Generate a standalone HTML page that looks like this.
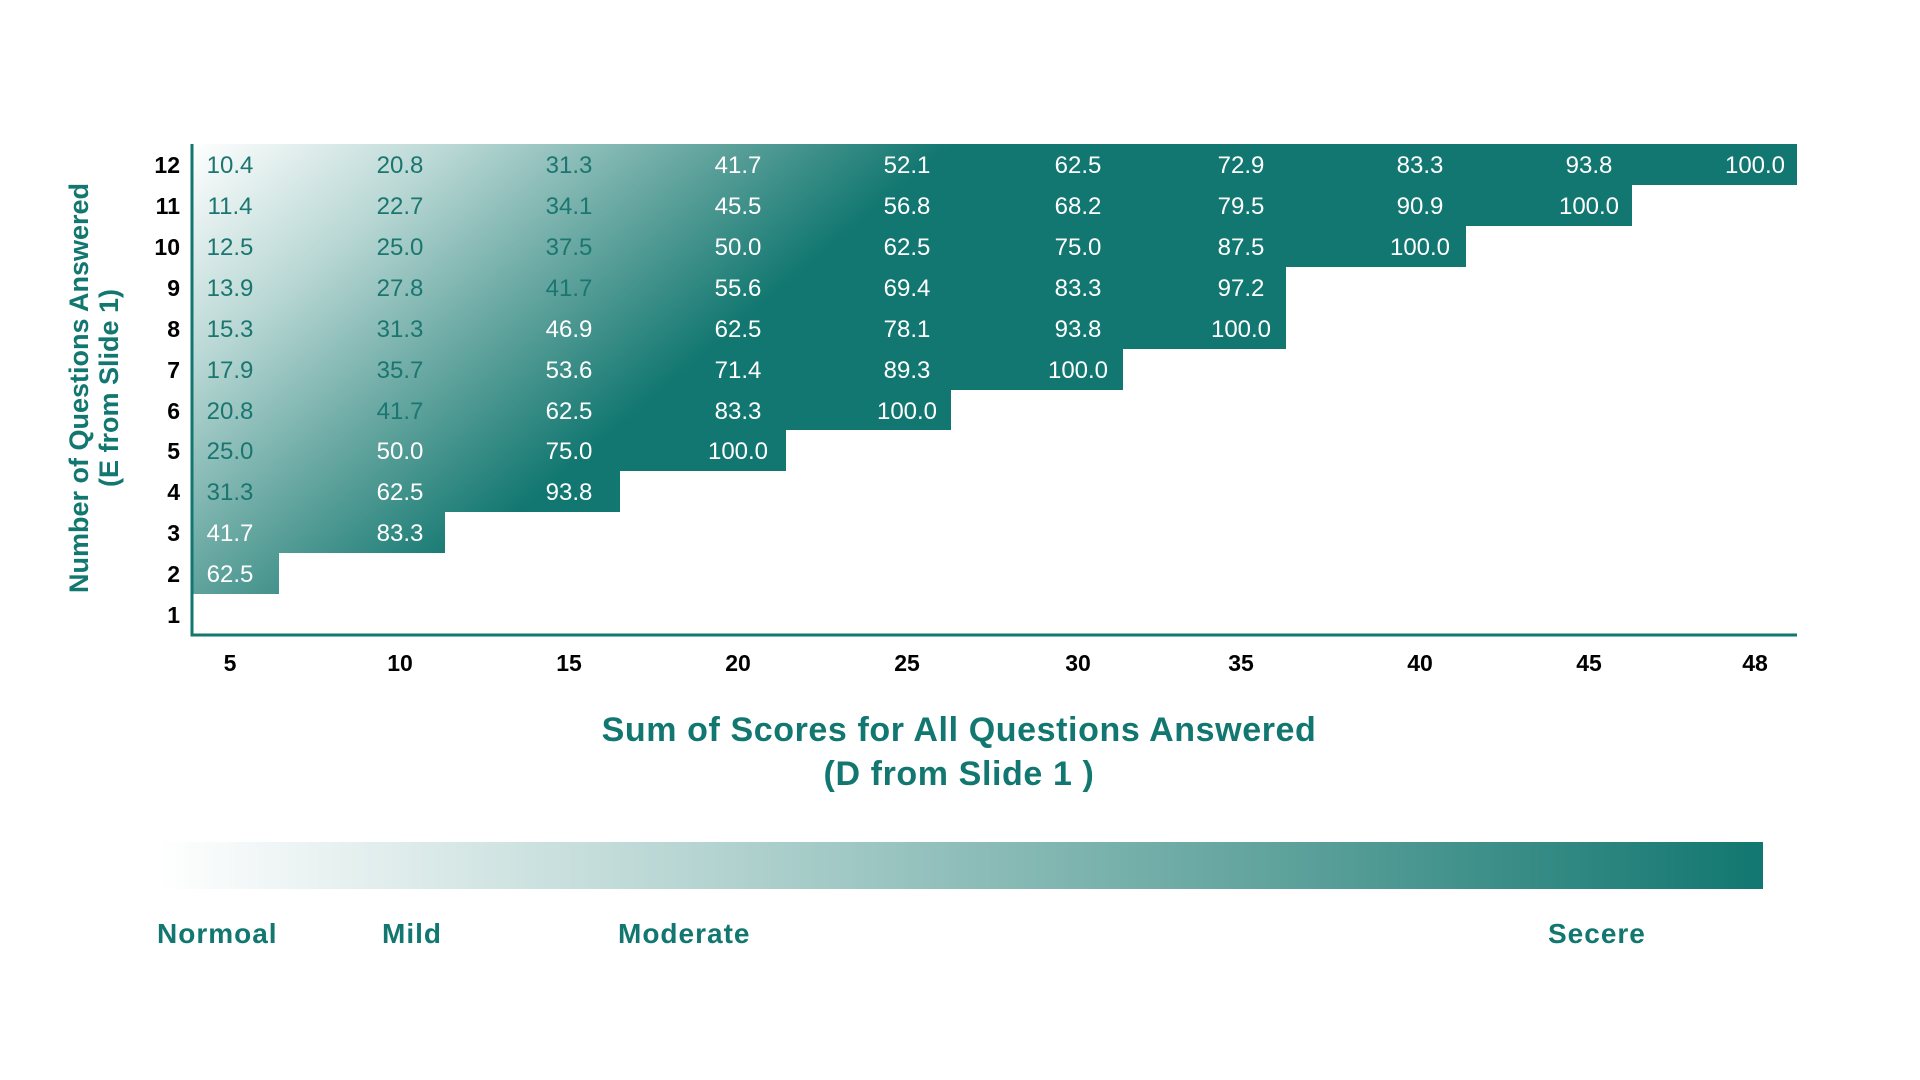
<!DOCTYPE html>
<html><head><meta charset="utf-8"><style>
html,body{margin:0;padding:0;background:#fff;width:1920px;height:1080px;overflow:hidden}
svg text{font-family:"Liberation Sans",sans-serif}
</style></head><body>
<svg width="1920" height="1080" viewBox="0 0 1920 1080" xmlns="http://www.w3.org/2000/svg">
<defs>
<linearGradient id="g" gradientUnits="userSpaceOnUse" x1="191" y1="144" x2="510" y2="520">
<stop offset="0" stop-color="#ffffff"/>
<stop offset="0.35" stop-color="#b8d7d4"/>
<stop offset="0.7" stop-color="#5fa29c"/>
<stop offset="1" stop-color="#117770"/>
</linearGradient>
<linearGradient id="bar" x1="0" y1="0" x2="1" y2="0">
<stop offset="0" stop-color="#ffffff"/>
<stop offset="0.35" stop-color="#b3d3d0"/>
<stop offset="0.7" stop-color="#5fa29c"/>
<stop offset="1" stop-color="#117770"/>
</linearGradient>
</defs>
<polygon fill="url(#g)" points="191,144 1797,144 1797,185 1632,185 1632,226 1466,226 1466,267 1286,267 1286,349 1123,349 1123,390 951,390 951,430 786,430 786,471 620,471 620,512 445,512 445,553 279,553 279,594 191,594"/>
<polyline fill="none" stroke="#117770" stroke-width="3" points="192,144 192,635 1797,635"/>
<g font-size="23" font-weight="bold" fill="#000" text-anchor="end">
<text x="180" y="173">12</text><text x="180" y="214">11</text><text x="180" y="255">10</text><text x="180" y="296">9</text><text x="180" y="337">8</text><text x="180" y="378">7</text><text x="180" y="419">6</text><text x="180" y="459">5</text><text x="180" y="500">4</text><text x="180" y="541">3</text><text x="180" y="582">2</text><text x="180" y="623">1</text>
</g>
<g font-size="23" font-weight="bold" fill="#000" text-anchor="middle">
<text x="230" y="671">5</text><text x="400" y="671">10</text><text x="569" y="671">15</text><text x="738" y="671">20</text><text x="907" y="671">25</text><text x="1078" y="671">30</text><text x="1241" y="671">35</text><text x="1420" y="671">40</text><text x="1589" y="671">45</text><text x="1755" y="671">48</text>
</g>
<g font-size="24" text-anchor="middle" fill="#fff">
<g fill="#1b7670">
<text x="230" y="173">10.4</text><text x="400" y="173">20.8</text><text x="569" y="173">31.3</text>
<text x="230" y="214">11.4</text><text x="400" y="214">22.7</text><text x="569" y="214">34.1</text>
<text x="230" y="255">12.5</text><text x="400" y="255">25.0</text><text x="569" y="255">37.5</text>
<text x="230" y="296">13.9</text><text x="400" y="296">27.8</text><text x="569" y="296">41.7</text>
<text x="230" y="337">15.3</text><text x="400" y="337">31.3</text>
<text x="230" y="378">17.9</text><text x="400" y="378">35.7</text>
<text x="230" y="419">20.8</text><text x="400" y="419">41.7</text>
<text x="230" y="459">25.0</text>
<text x="230" y="500">31.3</text>
</g>
<text x="738" y="173">41.7</text><text x="907" y="173">52.1</text><text x="1078" y="173">62.5</text><text x="1241" y="173">72.9</text><text x="1420" y="173">83.3</text><text x="1589" y="173">93.8</text><text x="1755" y="173">100.0</text>
<text x="738" y="214">45.5</text><text x="907" y="214">56.8</text><text x="1078" y="214">68.2</text><text x="1241" y="214">79.5</text><text x="1420" y="214">90.9</text><text x="1589" y="214">100.0</text>
<text x="738" y="255">50.0</text><text x="907" y="255">62.5</text><text x="1078" y="255">75.0</text><text x="1241" y="255">87.5</text><text x="1420" y="255">100.0</text>
<text x="738" y="296">55.6</text><text x="907" y="296">69.4</text><text x="1078" y="296">83.3</text><text x="1241" y="296">97.2</text>
<text x="569" y="337">46.9</text><text x="738" y="337">62.5</text><text x="907" y="337">78.1</text><text x="1078" y="337">93.8</text><text x="1241" y="337">100.0</text>
<text x="569" y="378">53.6</text><text x="738" y="378">71.4</text><text x="907" y="378">89.3</text><text x="1078" y="378">100.0</text>
<text x="569" y="419">62.5</text><text x="738" y="419">83.3</text><text x="907" y="419">100.0</text>
<text x="400" y="459">50.0</text><text x="569" y="459">75.0</text><text x="738" y="459">100.0</text>
<text x="400" y="500">62.5</text><text x="569" y="500">93.8</text>
<text x="230" y="541">41.7</text><text x="400" y="541">83.3</text>
<text x="230" y="582">62.5</text>
</g>
<g font-size="27" font-weight="bold" fill="#117770" text-anchor="middle" transform="translate(88,388) rotate(-90)">
<text x="0" y="0">Number of Questions Answered</text>
<text x="0" y="30">(E from Slide 1)</text>
</g>
<g font-size="34" font-weight="bold" fill="#117770" text-anchor="middle" letter-spacing="0.6">
<text x="959" y="741">Sum of Scores for All Questions Answered</text>
<text x="959" y="785">(D from Slide 1 )</text>
</g>
<rect x="158" y="842" width="1605" height="47" fill="url(#bar)"/>
<g font-size="28" font-weight="bold" fill="#117770" letter-spacing="1">
<text x="157" y="943">Normoal</text><text x="382" y="943">Mild</text><text x="618" y="943">Moderate</text><text x="1548" y="943">Secere</text>
</g>
</svg>
</body></html>
